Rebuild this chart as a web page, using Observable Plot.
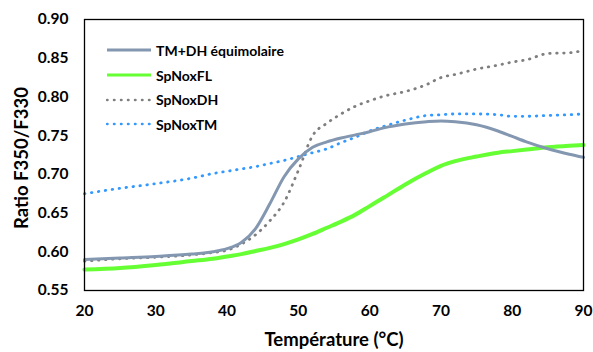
<!DOCTYPE html>
<html><head><meta charset="utf-8">
<script src="https://cdn.jsdelivr.net/npm/d3@7"></script>
<script src="https://cdn.jsdelivr.net/npm/@observablehq/plot@0.6"></script>
<style>
body{margin:0;background:#fff;}
#wrap{position:relative;width:593px;height:352px;}
#legend{position:absolute;left:106px;top:38px;font-family:Lato,"Open Sans",sans-serif;font-weight:bold;font-size:14px;color:#000;}
#legend .row{height:24.7px;display:flex;align-items:center;}
#legend svg{width:46px;height:6px;margin-right:4px;}
</style></head>
<body><div id="wrap"><div id="chart"></div><div id="legend"></div></div>
<script>
const temps = [20,25,30,35,38,40,42,44,46,48,50,52,54,56,58,60,62,65,68,70,72,75,78,80,82,85,88,90];
const tmdh  = [0.590,0.592,0.594,0.597,0.600,0.604,0.612,0.630,0.662,0.697,0.720,0.735,0.742,0.747,0.751,0.755,0.760,0.765,0.768,0.769,0.768,0.764,0.756,0.749,0.742,0.733,0.726,0.722];
const spFL  = [0.577,0.579,0.583,0.588,0.591,0.594,0.597,0.601,0.605,0.610,0.616,0.623,0.631,0.639,0.648,0.659,0.670,0.687,0.702,0.711,0.717,0.723,0.728,0.730,0.732,0.735,0.737,0.738];
const spDH  = [0.588,0.591,0.593,0.596,0.599,0.602,0.610,0.622,0.640,0.664,0.705,0.750,0.766,0.778,0.788,0.795,0.801,0.807,0.816,0.825,0.829,0.836,0.841,0.845,0.848,0.856,0.857,0.860];
const spTM  = [0.675,0.682,0.688,0.695,0.701,0.704,0.707,0.710,0.714,0.718,0.723,0.728,0.733,0.741,0.748,0.756,0.762,0.770,0.776,0.777,0.778,0.778,0.777,0.775,0.775,0.776,0.777,0.778];
const seriesNames = ["TM+DH équimolaire","SpNoxFL","SpNoxDH","SpNoxTM"];
const xTicks = [20,30,40,50,60,70,80,90];
const yTicks = [0.55,0.60,0.65,0.70,0.75,0.80,0.85,0.90];

const styles = {
  "TM+DH équimolaire": {stroke:"#8497B0", strokeWidth:3, dash:null},
  "SpNoxFL": {stroke:"#66FF33", strokeWidth:4, dash:null},
  "SpNoxDH": {stroke:"#7F7F7F", strokeWidth:2.8, dash:"0.5 6.5"},
  "SpNoxTM": {stroke:"#3399FF", strokeWidth:2.8, dash:"0.5 6.5"}
};
const vals = [tmdh, spFL, spDH, spTM];
const lineMarks = seriesNames.map((name, i) => {
  const data = temps.map((t, j) => ({t, v: vals[i][j]}));
  const s = styles[name];
  return Plot.line(data, {x:"t", y:"v", stroke:s.stroke, strokeWidth:s.strokeWidth,
    strokeDasharray:s.dash || undefined, strokeLinecap:"round", curve:"monotone-x"});
});
const order = [1,3,2,0].map(i => lineMarks[i]);

const chart = Plot.plot({
  width:593, height:352,
  marginLeft:84, marginRight:10, marginTop:19, marginBottom:62,
  style:{fontFamily:"Lato, 'Open Sans', sans-serif", fontSize:"15px", fontWeight:"bold", background:"white", color:"#000"},
  x:{domain:[20,90]},
  y:{domain:[0.55,0.90]},
  marks:[
    ...order,
    Plot.frame({stroke:"black", strokeWidth:1.3}),
    Plot.axisX({ticks:xTicks, tickSize:0, tickPadding:14, label:null, fontSize:15.5, fontWeight:"bold"}),
    Plot.axisY({ticks:yTicks, tickSize:0, tickPadding:16, tickFormat:d3.format(".2f"), label:null, fontSize:15.5, fontWeight:"bold"}),
    Plot.text(["Température (°C)"], {frameAnchor:"bottom", dy:50, lineAnchor:"middle", fontSize:18.5, fontWeight:"bold"}),
    Plot.text(["Ratio F350/F330"], {frameAnchor:"left", dx:-62, dy:3, rotate:-90, textAnchor:"middle", lineAnchor:"middle", fontSize:18.5, fontWeight:"bold"})
  ]
});
document.getElementById("chart").appendChild(chart);

const legend = document.getElementById("legend");
seriesNames.forEach(name => {
  const s = styles[name];
  const row = document.createElement("div");
  row.className = "row";
  row.innerHTML = `<svg viewBox="0 0 46 6"><line x1="1" x2="45" y1="3" y2="3" stroke="${s.stroke}" stroke-width="${s.dash?2.5:3}" ${s.dash?`stroke-dasharray="${s.dash}" stroke-linecap="round"`:""}/></svg><span>${name}</span>`;
  legend.appendChild(row);
});
</script></body></html>
